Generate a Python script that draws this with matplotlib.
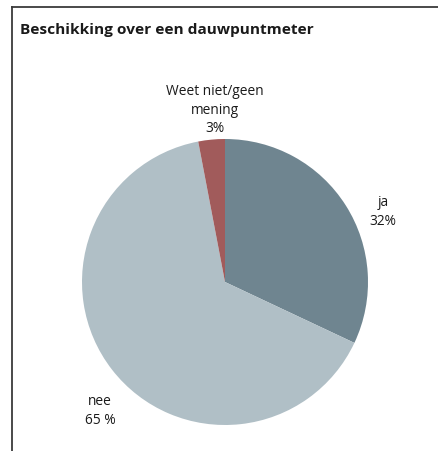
from matplotlib import pyplot as plt
from matplotlib import rcParams

rcParams['font.family'] = ['Open Sans', 'DejaVu Sans']

labels = ['ja\n32%', 'nee\n65 %', 'Weet niet/geen\nmening\n3%']
shares = [32, 65, 3]
colors = ['#6f8590', '#b0bfc6', '#a15b5b']

W, H = 438, 452
fig = plt.figure(figsize=(W / 100, H / 100), dpi=100)
ax = fig.add_axes([0, 0, 1, 1])

# frame: top and left rule only
ax.plot([12, W], [H - 8, H - 8], color='#3a3a3a', lw=1.3)
ax.plot([12, 12], [H - 8, 0], color='#3a3a3a', lw=1.3)

ax.text(20, H - 30, 'Beschikking over een dauwpuntmeter',
        fontsize=11.1, fontweight='bold', color='#1a1a1a', va='center')

wedges, _ = ax.pie(shares, colors=colors, startangle=90, counterclock=False,
                   center=(225, H - 283), radius=143, frame=True)
ax.set_xlim(0, W)
ax.set_ylim(0, H)
ax.axis('off')

label_pos = [(383, H - 212), (100, H - 411), (215, H - 110)]
for lab, (x, y) in zip(labels, label_pos):
    ax.text(x, y, lab, ha='center', va='center', fontsize=9.9,
            color='#1a1a1a', linespacing=1.35)

fig.savefig('out.png', dpi=100)
